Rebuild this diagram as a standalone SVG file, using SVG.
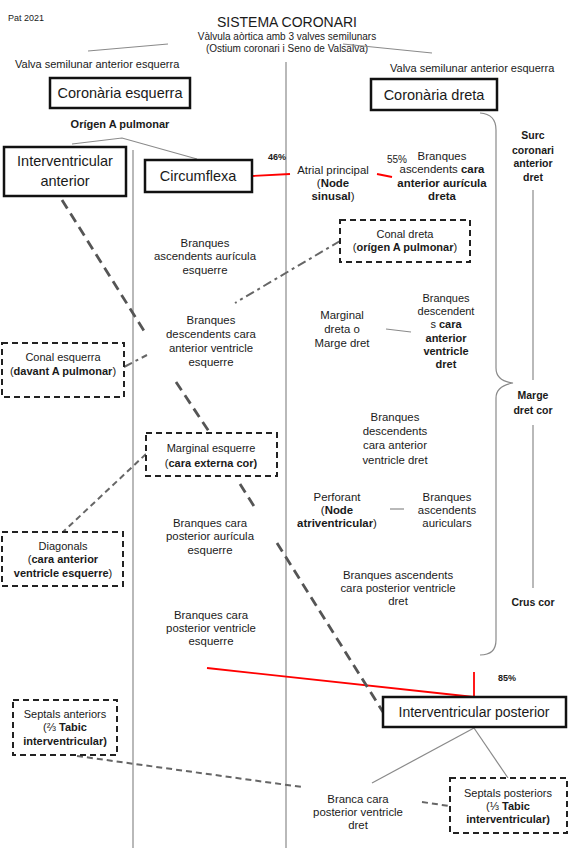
<svg xmlns="http://www.w3.org/2000/svg" width="574" height="848" viewBox="0 0 574 848">
<style>
text{font-family:"Liberation Sans",Arial,sans-serif;fill:#1a1a1a}
.s{font-size:11.4px;text-anchor:middle}
.d{font-size:11px}
.l{font-size:14px;text-anchor:middle}
.bl{font-size:10.5px;font-weight:bold;text-anchor:middle}
.b{font-weight:bold}
.box{fill:#fff;stroke:#111;stroke-width:2.5}
.dbox{fill:#fff;stroke:#222;stroke-width:2;stroke-dasharray:6 4}
.gl{stroke:#8a8a8a;stroke-width:1.2;fill:none}
.red{stroke:#f00;stroke-width:1.8;fill:none}
.thd{stroke:#555;stroke-width:2.8;stroke-dasharray:10 6;fill:none}
.ld{stroke:#666;stroke-width:2;stroke-dasharray:6 4;fill:none}
.dd{stroke:#666;stroke-width:2;stroke-dasharray:9 4 3 4;fill:none}
</style>
<rect width="574" height="848" fill="#fff"/>
<g id="header">
<text x="8" y="21" style="font-size:9px">Pat 2021</text>
<text x="287" y="27" style="font-size:14px;text-anchor:middle">SISTEMA CORONARI</text>
<text x="287" y="40" style="font-size:10px;text-anchor:middle">Vàlvula aòrtica amb 3 valves semilunars</text>
<text x="287" y="52" style="font-size:10px;text-anchor:middle">(Ostium coronari i Seno de Valsalva)</text>
<text x="15" y="68" style="font-size:11px">Valva semilunar anterior esquerra</text>
<text x="390" y="72" style="font-size:11px">Valva semilunar anterior esquerra</text>
</g>
<g id="connectors">
<line class="gl" x1="88" y1="51" x2="168" y2="44"/>
<line class="gl" x1="343" y1="44" x2="432" y2="53"/>
<line class="gl" x1="133" y1="150" x2="133" y2="848"/>
<line class="gl" x1="286" y1="62" x2="286" y2="848"/>
<line class="gl" x1="533" y1="190" x2="533" y2="380"/>
<line class="gl" x1="533" y1="425" x2="533" y2="588"/>
<path class="gl" d="M480,113 Q496,114 496,130 L496,368 Q496,381 513,383 Q496,386 496,398 L496,640 Q496,655 480,655"/>
<polyline class="gl" points="72,144 122,138 197,159"/>
<line class="gl" x1="386" y1="329" x2="411" y2="332"/>
<line class="gl" x1="390" y1="509" x2="404" y2="509"/>
<line class="gl" x1="474" y1="728" x2="372" y2="783"/>
<line class="gl" x1="474" y1="728" x2="508" y2="778"/>
<line class="red" x1="252" y1="176" x2="290" y2="174"/>
<line class="red" x1="377" y1="174" x2="392" y2="177"/>
<line class="red" x1="207" y1="668" x2="474" y2="697"/>
<line class="red" x1="474" y1="672" x2="474" y2="697"/>
<line class="thd" x1="62" y1="200" x2="146" y2="334"/>
<line class="thd" x1="176" y1="382" x2="210" y2="433"/>
<line class="thd" x1="240" y1="484" x2="257" y2="511"/>
<line class="thd" x1="277" y1="543" x2="383" y2="712"/>
<line class="dd" x1="340" y1="241" x2="235" y2="303"/>
<line class="dd" x1="124" y1="367" x2="147" y2="355"/>
<line class="ld" x1="146" y1="454" x2="63" y2="532"/>
<line class="ld" x1="77" y1="756" x2="302" y2="787"/>
<line class="ld" x1="422" y1="802" x2="449" y2="806"/>
</g>
<g id="coronaria-esquerra"><rect class="box" x="50" y="78" width="140" height="30"/><text class="l" x="120" y="98" style="font-size:14.5px">Coronària esquerra</text></g>
<g id="coronaria-dreta"><rect class="box" x="371" y="79" width="126" height="31"/><text class="l" x="434" y="100" style="font-size:14.5px">Coronària dreta</text></g>
<g id="origen"><text class="s b" x="120" y="128" style="font-size:11px">Orígen A pulmonar</text></g>
<g id="iv-anterior"><rect class="box" x="4" y="147" width="122" height="49"/><text class="l" x="65" y="166" style="font-size:14.5px">Interventricular</text><text class="l" x="65" y="186" style="font-size:14.5px">anterior</text></g>
<g id="circumflexa"><rect class="box" x="145" y="160" width="107" height="32"/><text class="l" x="198" y="181" style="font-size:14.5px">Circumflexa</text></g>
<g id="pct46"><text x="268" y="160" style="font-size:9px;font-weight:bold">46%</text></g>
<g id="pct55"><text x="387" y="163" style="font-size:10px">55%</text></g>
<g id="atrial"><text class="s" x="333" y="174">Atrial principal</text><text class="s" x="333" y="187">(<tspan class="b">Node</tspan></text><text class="s" x="333" y="200"><tspan class="b">sinusal</tspan>)</text></g>
<g id="branques-asc-dreta"><text class="s" x="442" y="160">Branques</text><text class="s" x="442" y="173">ascendents <tspan class="b">cara</tspan></text><text class="s b" x="442" y="187">anterior aurícula</text><text class="s b" x="442" y="200">dreta</text></g>
<g id="surc"><text class="bl" x="533" y="139">Surc</text><text class="bl" x="533" y="154">coronari</text><text class="bl" x="533" y="167">anterior</text><text class="bl" x="533" y="181">dret</text></g>
<g id="conal-dreta"><rect class="dbox" x="340" y="220" width="130" height="42"/><text class="s d" x="405" y="238">Conal dreta</text><text class="s d" x="405" y="251">(<tspan class="b">orígen A pulmonar</tspan>)</text></g>
<g id="branques-asc-auricula-esq"><text class="s" x="205" y="247">Branques</text><text class="s" x="205" y="260">ascendents aurícula</text><text class="s" x="205" y="274">esquerre</text></g>
<g id="branques-desc-esq"><text class="s" x="211" y="324">Branques</text><text class="s" x="211" y="338">descendents cara</text><text class="s" x="211" y="352">anterior ventricle</text><text class="s" x="211" y="366">esquerre</text></g>
<g id="marginal-dreta"><text class="s" x="342" y="319">Marginal</text><text class="s" x="342" y="333">dreta o</text><text class="s" x="342" y="347">Marge dret</text></g>
<g id="branques-desc-dret-bold"><text class="s d" x="446" y="302">Branques</text><text class="s d" x="446" y="315">descendent</text><text class="s d" x="446" y="328">s <tspan class="b">cara</tspan></text><text class="s d b" x="446" y="342">anterior</text><text class="s d b" x="446" y="355">ventricle</text><text class="s d b" x="446" y="368">dret</text></g>
<g id="conal-esquerra"><rect class="dbox" x="2" y="343" width="122" height="54"/><text class="s d" x="63" y="361">Conal esquerra</text><text class="s d" x="63" y="375">(<tspan class="b">davant A pulmonar</tspan>)</text></g>
<g id="marge-dret-cor"><text class="bl" x="533" y="399">Marge</text><text class="bl" x="533" y="414">dret cor</text></g>
<g id="branques-desc-dret"><text class="s" x="395" y="421">Branques</text><text class="s" x="395" y="435">descendents</text><text class="s" x="395" y="449">cara anterior</text><text class="s" x="395" y="464">ventricle dret</text></g>
<g id="marginal-esquerre"><rect class="dbox" x="146" y="433" width="131" height="43"/><text class="s d" x="211" y="452">Marginal esquerre</text><text class="s d" x="211" y="467">(<tspan class="b">cara externa cor)</tspan></text></g>
<g id="perforant"><text class="s" x="337" y="501">Perforant</text><text class="s" x="337" y="514">(<tspan class="b">Node</tspan></text><text class="s" x="337" y="527"><tspan class="b">atriventricular</tspan>)</text></g>
<g id="branques-asc-auriculars"><text class="s" x="447" y="501">Branques</text><text class="s" x="447" y="514">ascendents</text><text class="s" x="447" y="527">auriculars</text></g>
<g id="branques-post-auricula-esq"><text class="s" x="210" y="527">Branques cara</text><text class="s" x="210" y="540">posterior aurícula</text><text class="s" x="210" y="554">esquerre</text></g>
<g id="diagonals"><rect class="dbox" x="2" y="532" width="121" height="54"/><text class="s d" x="63" y="550">Diagonals</text><text class="s d" x="63" y="563">(<tspan class="b">cara anterior</tspan></text><text class="s d" x="63" y="577"><tspan class="b">ventricle esquerre</tspan>)</text></g>
<g id="branques-asc-post-dret"><text class="s" x="398" y="579">Branques ascendents</text><text class="s" x="398" y="592">cara posterior ventricle</text><text class="s" x="398" y="605">dret</text></g>
<g id="crus"><text class="bl" x="533" y="606">Crus cor</text></g>
<g id="branques-post-ventricle-esq"><text class="s" x="211" y="619">Branques cara</text><text class="s" x="211" y="632">posterior ventricle</text><text class="s" x="211" y="645">esquerre</text></g>
<g id="pct85"><text x="498" y="681" style="font-size:9px;font-weight:bold">85%</text></g>
<g id="septals-anteriors"><rect class="dbox" x="13" y="700" width="104" height="55"/><text class="s d" x="65" y="718">Septals anteriors</text><text class="s d" x="65" y="731">(⅔ <tspan class="b">Tabic</tspan></text><text class="s d b" x="65" y="745">interventricular)</text></g>
<g id="iv-posterior"><rect class="box" x="383" y="697" width="183" height="30"/><text class="l" x="474" y="717">Interventricular posterior</text></g>
<g id="branca-post-dret"><text class="s" x="358" y="803">Branca cara</text><text class="s" x="358" y="816">posterior ventricle</text><text class="s" x="358" y="829">dret</text></g>
<g id="septals-posteriors"><rect class="dbox" x="450" y="778" width="117" height="55"/><text class="s d" x="508" y="797">Septals posteriors</text><text class="s d" x="508" y="810">(⅓ <tspan class="b">Tabic</tspan></text><text class="s d b" x="508" y="823">interventricular)</text></g>
</svg>
